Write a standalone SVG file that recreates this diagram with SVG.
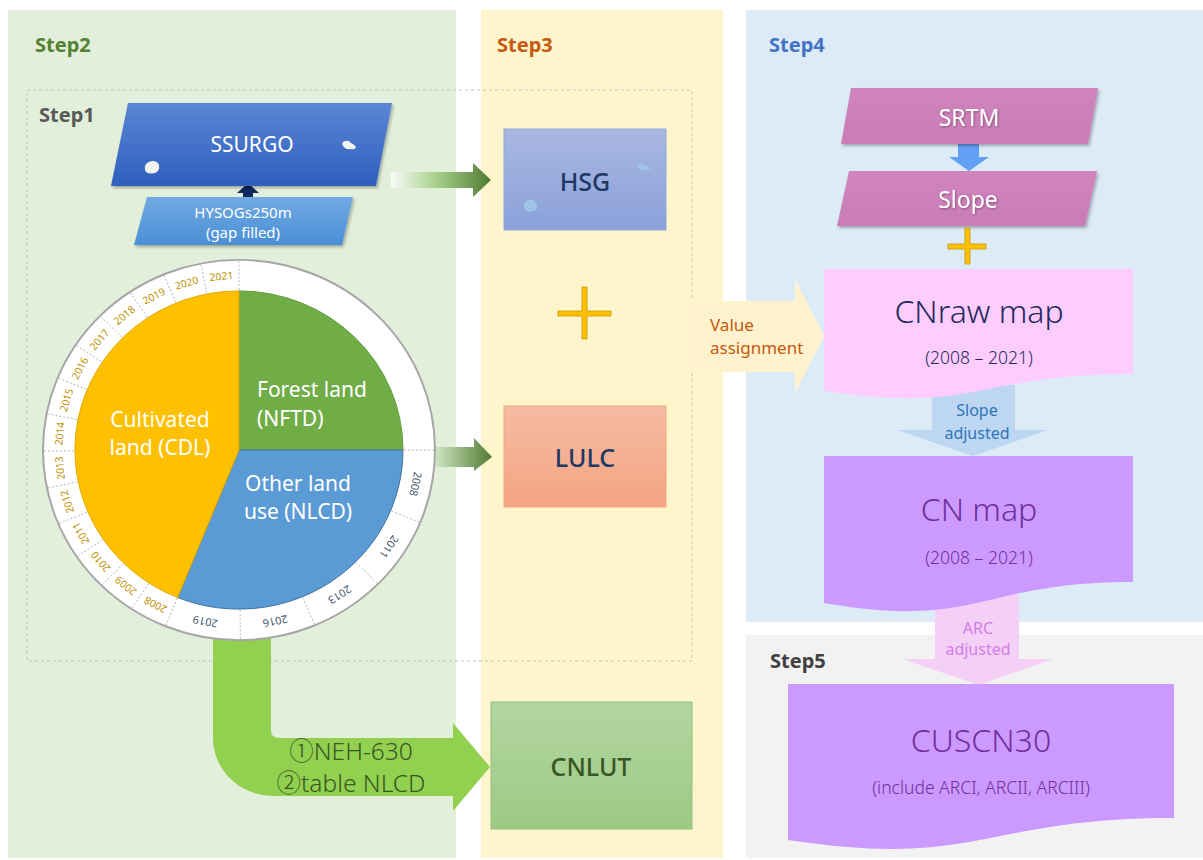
<svg xmlns="http://www.w3.org/2000/svg" width="1203" height="860" viewBox="0 0 1203 860">
<defs>
<style>
text{font-family:"Noto Sans","Open Sans","Noto Sans CJK SC",sans-serif;}
.step{font-size:20px;font-weight:bold;}
.wt{fill:#fff;}
.yl{font-size:10.5px;fill:#bf9000;text-anchor:middle;}
.bl{font-size:11px;fill:#44546a;text-anchor:middle;}
.div{stroke:#a6a6a6;stroke-width:0.8;stroke-dasharray:2,2;}
.pie{font-size:21px;fill:#fff;}
.mid{text-anchor:middle;}
.box{font-size:25px;font-weight:500;text-anchor:middle;}
.big{font-size:32px;font-weight:300;text-anchor:middle;}
.sub{font-size:17.5px;font-weight:300;text-anchor:middle;}
.plus{fill:#ffc000;stroke:#c99700;stroke-width:0.8;}
</style>
<linearGradient id="gSS" x1="0" y1="0" x2="0" y2="1"><stop offset="0" stop-color="#5b86d4"/><stop offset="1" stop-color="#2f5fbe"/></linearGradient>
<linearGradient id="gHY" x1="0" y1="0" x2="0" y2="1"><stop offset="0" stop-color="#71a9e2"/><stop offset="1" stop-color="#4a8fd6"/></linearGradient>
<linearGradient id="gHSG" x1="0" y1="0" x2="0" y2="1"><stop offset="0" stop-color="#a9b7e1"/><stop offset="1" stop-color="#8ba1da"/></linearGradient>
<linearGradient id="gLU" x1="0" y1="0" x2="0" y2="1"><stop offset="0" stop-color="#f5bba3"/><stop offset="1" stop-color="#f4a482"/></linearGradient>
<linearGradient id="gCL" x1="0" y1="0" x2="0" y2="1"><stop offset="0" stop-color="#b3d5a2"/><stop offset="1" stop-color="#9cca84"/></linearGradient>
<linearGradient id="gSR" x1="0" y1="0" x2="0" y2="1"><stop offset="0" stop-color="#d085bd"/><stop offset="1" stop-color="#c97cb6"/></linearGradient>
<linearGradient id="gA1" x1="0" y1="0" x2="1" y2="0"><stop offset="0" stop-color="#f8fbf6"/><stop offset="0.45" stop-color="#a9d18e"/><stop offset="1" stop-color="#4f7a30"/></linearGradient>
<linearGradient id="gA2" x1="0" y1="0" x2="1" y2="0"><stop offset="0" stop-color="#cfe5c2"/><stop offset="1" stop-color="#4f7a30"/></linearGradient>
<filter id="sh" x="-10%" y="-10%" width="120%" height="130%"><feDropShadow dx="1.5" dy="2" stdDeviation="1.5" flood-color="#000" flood-opacity="0.3"/></filter>
<filter id="tsh" x="-10%" y="-20%" width="120%" height="140%"><feDropShadow dx="1" dy="1" stdDeviation="1" flood-color="#000" flood-opacity="0.35"/></filter>
</defs>

<rect width="1203" height="860" fill="#fff"/>

<g id="panels">
<rect x="8" y="10" width="448" height="848" fill="#e2efda"/>
<rect x="481" y="10" width="242" height="848" fill="#fff5cc"/>
<rect x="746" y="10" width="457" height="612" fill="#ddebf7"/>
<rect x="746" y="635" width="457" height="223" fill="#f2f2f2"/>
<rect x="27" y="90" width="665" height="571" fill="none" stroke="#c3c3c3" stroke-width="1" stroke-dasharray="3,3"/>
<text class="step" x="35" y="52" fill="#548235">Step2</text>
<text class="step" x="497" y="52" fill="#c55a11">Step3</text>
<text class="step" x="769" y="52" fill="#4472c4">Step4</text>
<text class="step" x="770" y="668" fill="#404040">Step5</text>
<text class="step" x="39" y="122" fill="#595959">Step1</text>
</g>

<g id="connectors">
<path d="M213,600 L271,600 L271,730 Q271,738 279,738 L453,738 L453,723 L490,767 L453,811 L453,796 L273,796 A60,58 0 0 1 213,738 Z" fill="#92d050"/>
<text x="351" y="760" class="mid" font-size="24.5" font-weight="300" fill="#385723" font-family="Noto Sans, Noto Sans CJK SC, sans-serif">①NEH-630</text>
<text x="351" y="792" class="mid" font-size="24.5" font-weight="300" fill="#385723" font-family="Noto Sans, Noto Sans CJK SC, sans-serif">②table NLCD</text>
<path d="M391,172 L473,172 L473,163 L491,180 L473,197 L473,188 L391,188 Z" fill="url(#gA1)"/>
<path d="M436,447 L474,447 L474,438 L492,457 L474,471 L474,467 L436,467 Z" fill="url(#gA2)"/>
<path d="M690,301 L795,301 L795,279 L824,336 L795,393 L795,372 L690,372 Z" fill="#fff2cc"/>
<text x="710" y="331" font-size="17" fill="#c55a11">Value</text>
<text x="710" y="354" font-size="17" fill="#c55a11">assignment</text>
<path d="M243,198 L253,198 L253,193 L259,193 L248,183 L237,193 L243,193 Z" fill="#10285c"/>
<path d="M958,143 L979,143 L979,157 L989,157 L969,171 L949,157 L958,157 Z" fill="#62a0f5"/>
<path d="M932,385 L1015,385 L1015,430 L1048,430 L973,456 L897,430 L932,430 Z" fill="#bdd7f3"/>
<text x="977" y="416" font-size="16" fill="#2e75b6" class="mid">Slope</text>
<text x="977" y="439" font-size="16" fill="#2e75b6" class="mid">adjusted</text>
<path d="M935,595 L1019,595 L1019,659 L1053,659 L979,685 L902,659 L935,659 Z" fill="#f4d0f6"/>
<text x="978" y="634" font-size="16" fill="#d27ee6" class="mid">ARC</text>
<text x="978" y="655" font-size="16" fill="#d27ee6" class="mid">adjusted</text>
</g>

<g id="ssurgo">
<polygon points="128,103 392,103 376,186 111,186" fill="url(#gSS)" filter="url(#sh)"/>
<path d="M147,163 q6,-4 11,0 q3,5 -1,9 q-6,3 -11,0 q-3,-5 1,-9 Z" fill="#f4f4ee"/>
<path d="M343,142 q5,-3 8,1 q3,1 5,4 q-1,3 -5,2 q-5,1 -7,-2 q-3,-3 -1,-5 Z" fill="#f4f4ee"/>
<text x="252" y="152" class="wt mid" font-size="21">SSURGO</text>
</g>

<g id="hysogs">
<polygon points="147,197 353,197 342,245 134,245" fill="url(#gHY)" filter="url(#sh)"/>
<text x="243" y="218" class="wt mid" font-size="15">HYSOGs250m</text>
<text x="243" y="238" class="wt mid" font-size="15">(gap filled)</text>
</g>

<g id="landuse-wheel">
<g transform="translate(239,450) scale(1,0.97)">
<circle r="196" fill="#fff" stroke="#a6a6a6" stroke-width="2"/>
<path d="M0,0 L0,-164 A164,164 0 0 1 164,0 Z" fill="#70ad47" stroke="#5f9a3a" stroke-width="1"/>
<path d="M0,0 L164,0 A164,164 0 0 1 -61.4,152.1 Z" fill="#5b9bd5" stroke="#41719c" stroke-width="1"/>
<path d="M0,0 L-61.4,152.1 A164,164 0 0 1 0,-164 Z" fill="#ffc000" stroke="#e0a800" stroke-width="1"/>
<g>
<line class="div" y1="-165" y2="-195" transform="rotate(0)"/>
<line class="div" y1="-165" y2="-195" transform="rotate(-11.29)"/>
<line class="div" y1="-165" y2="-195" transform="rotate(-22.57)"/>
<line class="div" y1="-165" y2="-195" transform="rotate(-33.86)"/>
<line class="div" y1="-165" y2="-195" transform="rotate(-45.14)"/>
<line class="div" y1="-165" y2="-195" transform="rotate(-56.43)"/>
<line class="div" y1="-165" y2="-195" transform="rotate(-67.71)"/>
<line class="div" y1="-165" y2="-195" transform="rotate(-79)"/>
<line class="div" y1="-165" y2="-195" transform="rotate(-90.29)"/>
<line class="div" y1="-165" y2="-195" transform="rotate(-101.57)"/>
<line class="div" y1="-165" y2="-195" transform="rotate(-112.86)"/>
<line class="div" y1="-165" y2="-195" transform="rotate(-124.14)"/>
<line class="div" y1="-165" y2="-195" transform="rotate(-135.43)"/>
<line class="div" y1="-165" y2="-195" transform="rotate(-146.71)"/>
<line class="div" y1="-165" y2="-195" transform="rotate(-158)"/>
<line class="div" y1="-165" y2="-195" transform="rotate(90)"/>
<line class="div" y1="-165" y2="-195" transform="rotate(112.4)"/>
<line class="div" y1="-165" y2="-195" transform="rotate(134.8)"/>
<line class="div" y1="-165" y2="-195" transform="rotate(157.2)"/>
<line class="div" y1="-165" y2="-195" transform="rotate(179.6)"/>
</g>
<g>
<text class="yl" transform="rotate(-5.64) translate(0,-180)" dy="3.7">2021</text>
<text class="yl" transform="rotate(-16.93) translate(0,-180)" dy="3.7">2020</text>
<text class="yl" transform="rotate(-28.21) translate(0,-180)" dy="3.7">2019</text>
<text class="yl" transform="rotate(-39.5) translate(0,-180)" dy="3.7">2018</text>
<text class="yl" transform="rotate(-50.79) translate(0,-180)" dy="3.7">2017</text>
<text class="yl" transform="rotate(-62.07) translate(0,-180)" dy="3.7">2016</text>
<text class="yl" transform="rotate(-73.36) translate(0,-180)" dy="3.7">2015</text>
<text class="yl" transform="rotate(-84.64) translate(0,-180)" dy="3.7">2014</text>
<text class="yl" transform="rotate(-95.93) translate(0,-180)" dy="3.7">2013</text>
<text class="yl" transform="rotate(-107.21) translate(0,-180)" dy="3.7">2012</text>
<text class="yl" transform="rotate(-118.5) translate(0,-180)" dy="3.7">2011</text>
<text class="yl" transform="rotate(-129.79) translate(0,-180)" dy="3.7">2010</text>
<text class="yl" transform="rotate(-141.07) translate(0,-180)" dy="3.7">2009</text>
<text class="yl" transform="rotate(-152.36) translate(0,-180)" dy="3.7">2008</text>
<text class="bl" transform="rotate(101.2) translate(0,-180)" dy="3.8">2008</text>
<text class="bl" transform="rotate(123.6) translate(0,-180)" dy="3.8">2011</text>
<text class="bl" transform="rotate(146) translate(0,-180)" dy="3.8">2013</text>
<text class="bl" transform="rotate(168.4) translate(0,-180)" dy="3.8">2016</text>
<text class="bl" transform="rotate(190.8) translate(0,-180)" dy="3.8">2019</text>
</g>
</g>
<text class="pie mid" x="160" y="427">Cultivated</text>
<text class="pie mid" x="160" y="455">land (CDL)</text>
<text class="pie" x="257" y="397">Forest land</text>
<text class="pie" x="257" y="426">(NFTD)</text>
<text class="pie mid" x="298" y="491">Other land</text>
<text class="pie mid" x="298" y="519">use (NLCD)</text>
</g>

<g id="hsg">
<rect x="504" y="129" width="162" height="101" fill="url(#gHSG)" stroke="#8faadc" stroke-width="1"/>
<path d="M525,202 q5,-4 10,-1 q4,4 1,9 q-5,3 -10,1 q-4,-4 -1,-9 Z" fill="#9dc3e6"/>
<path d="M637,165 q4,-3 8,0 q4,1 5,4 q-3,2 -7,1 q-5,0 -6,-5 Z" fill="#9dc3e6"/>
<text class="box" x="585" y="191" fill="#203864">HSG</text>
</g>

<g id="plus1">
<polygon class="plus" points="582,287 587,287 587,311 611,311 611,316 587,316 587,339 582,339 582,316 558,316 558,311 582,311"/>
</g>

<g id="lulc">
<rect x="504" y="406" width="162" height="101" fill="url(#gLU)" stroke="#f4a582" stroke-width="1"/>
<text class="box" x="585" y="467" fill="#203864">LULC</text>
</g>

<g id="cnlut">
<rect x="491" y="702" width="201" height="127" fill="url(#gCL)" stroke="#92bf7a" stroke-width="1"/>
<text class="box" x="591" y="776" fill="#375623" font-size="26">CNLUT</text>
</g>

<g id="srtm">
<polygon points="851,88 1098,88 1088,144 841,144" fill="url(#gSR)" filter="url(#sh)"/>
<text x="969" y="126" class="wt mid" font-size="23" filter="url(#tsh)">SRTM</text>
</g>

<g id="slope">
<polygon points="849,171 1097,171 1085,226 837,226" fill="url(#gSR)" filter="url(#sh)"/>
<text x="968" y="208" class="wt mid" font-size="23" filter="url(#tsh)">Slope</text>
</g>

<g id="plus2">
<polygon class="plus" points="965,228 970,228 970,244 986,244 986,249 970,249 970,264 965,264 965,249 948,249 948,244 965,244"/>
</g>

<g id="cnraw">
<path d="M824,269 H1133 V374 C978.5,374 978.5,414 824,391 Z" fill="#ffccff"/>
<text class="big" x="979" y="323" fill="#1f2a5c">CNraw map</text>
<text class="sub" x="979" y="364" fill="#1f2a5c">(2008 – 2021)</text>
</g>

<g id="cnmap">
<path d="M824,456 H1133 V582 C978.5,582 978.5,630 824,603 Z" fill="#cc99ff"/>
<text class="big" x="979" y="521" fill="#7030a0">CN map</text>
<text class="sub" x="979" y="564" fill="#7030a0">(2008 – 2021)</text>
</g>

<g id="cuscn30">
<path d="M788,684 H1174 V818 C981,818 981,869 788,840 Z" fill="#cc99ff"/>
<text class="big" x="981" y="752" fill="#7030a0" font-size="35">CUSCN30</text>
<text class="sub" x="981" y="794" fill="#7030a0" font-size="19.5">(include ARCI, ARCII, ARCIII)</text>
</g>
</svg>
